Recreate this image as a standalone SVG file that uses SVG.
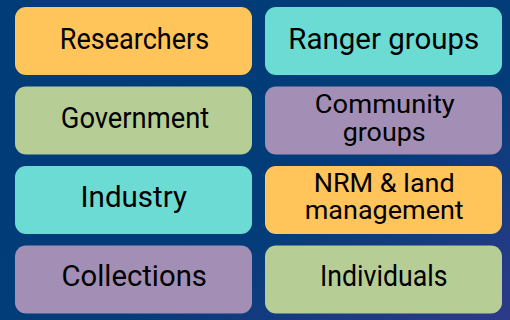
<svg xmlns="http://www.w3.org/2000/svg" width="510" height="320" viewBox="0 0 510 320">
<defs>
<linearGradient id="bg" x1="0" y1="0" x2="1" y2="1">
<stop offset="0" stop-color="#013c78"/>
<stop offset="0.6" stop-color="#023c79"/>
<stop offset="1" stop-color="#2e3a88"/>
</linearGradient>
<style>
.box{stroke:none}
.o{fill:#ffc55a}
.t{fill:#6cdbd4}
.g{fill:#b6ce96}
.p{fill:#a38fb5}
text{font-family:Roboto,"Noto Sans",sans-serif;font-size:29px;fill:#000;text-anchor:middle}
text.sm{font-size:26px}
</style>
</defs>
<rect width="510" height="320" fill="url(#bg)"/>
<g id="connectors"/>
<g id="researchers"><rect class="box o" x="15" y="7" width="237" height="68" rx="11"/><text x="134.5" y="49.3" textLength="149.5" lengthAdjust="spacingAndGlyphs">Researchers</text></g>
<g id="ranger-groups"><rect class="box t" x="265" y="7" width="237" height="68" rx="11"/><text x="383.8" y="49.3" textLength="191" lengthAdjust="spacingAndGlyphs">Ranger groups</text></g>
<g id="government"><rect class="box g" x="15" y="86.5" width="237" height="68" rx="11"/><text x="135" y="127.5" textLength="148.5" lengthAdjust="spacingAndGlyphs">Government</text></g>
<g id="community-groups"><rect class="box p" x="265" y="86.5" width="237" height="68" rx="11"/><text class="sm" x="384.8" y="113.4" textLength="140" lengthAdjust="spacingAndGlyphs">Community</text><text class="sm" x="384.2" y="140.7" textLength="83" lengthAdjust="spacingAndGlyphs">groups</text></g>
<g id="industry"><rect class="box t" x="15" y="166" width="237" height="68" rx="11"/><text x="133.8" y="207.3" textLength="106.5" lengthAdjust="spacingAndGlyphs">Industry</text></g>
<g id="nrm"><rect class="box o" x="265" y="166" width="237" height="68" rx="11"/><text class="sm" x="384.2" y="191.7" textLength="141" lengthAdjust="spacingAndGlyphs">NRM &amp; land</text><text class="sm" x="384.2" y="219.3" textLength="159" lengthAdjust="spacingAndGlyphs">management</text></g>
<g id="collections"><rect class="box p" x="15" y="245.5" width="237" height="68" rx="11"/><text x="134.2" y="286.3" textLength="145.5" lengthAdjust="spacingAndGlyphs">Collections</text></g>
<g id="individuals"><rect class="box g" x="265" y="245.5" width="237" height="68" rx="11"/><text x="383.8" y="286.3" textLength="127.5" lengthAdjust="spacingAndGlyphs">Individuals</text></g>
</svg>
